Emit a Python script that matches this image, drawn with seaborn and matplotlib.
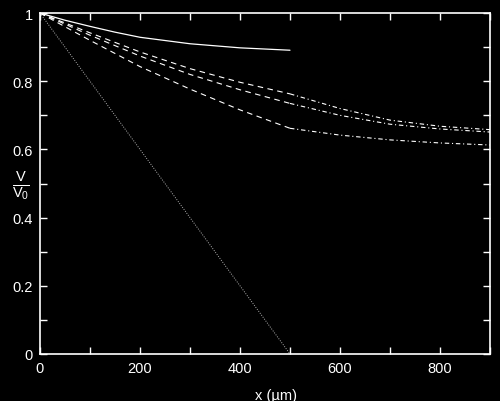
import matplotlib
matplotlib.use("Agg")
import matplotlib.pyplot as plt
import seaborn as sns
import pandas as pd
from matplotlib.ticker import MultipleLocator, FuncFormatter

# ==============================
# data
# ==============================
x_solid = [0, 50, 100, 150, 200, 300, 400, 500]
v_solid = [1.0, 0.979, 0.961, 0.944, 0.929, 0.910, 0.898, 0.891]

x_dotted = [0, 500]
v_dotted = [1.0, 0.0]

x_near = [0, 100, 200, 300, 400, 500]
x_far = [500, 600, 700, 800, 900]
v_top_near = [1.0, 0.942, 0.886, 0.837, 0.797, 0.763]
v_top_far = [0.763, 0.720, 0.686, 0.668, 0.658]
v_mid_near = [1.0, 0.935, 0.874, 0.820, 0.775, 0.735]
v_mid_far = [0.735, 0.700, 0.674, 0.660, 0.651]
v_low_near = [1.0, 0.920, 0.843, 0.777, 0.716, 0.662]
v_low_far = [0.662, 0.642, 0.628, 0.619, 0.613]

x_ticks_labelled = [0, 200, 400, 600, 800]
y_ticks_labelled = [0, 0.2, 0.4, 0.6, 0.8, 1]

# ==============================
# style
# ==============================
sns.set_theme(style="ticks")
plt.rcParams["font.family"] = ["Liberation Sans", "DejaVu Sans"]
plt.rcParams["mathtext.fontset"] = "custom"
plt.rcParams["mathtext.rm"] = "Liberation Sans"
plt.rcParams["mathtext.it"] = "Liberation Sans"

fig = plt.figure(figsize=(5.0, 4.02), dpi=100, facecolor="black")
ax = fig.add_axes([0.08, 0.117, 0.90, 0.848], facecolor="black")

dash = (0, (5, 4))
dashdot = (0, (4, 2.5, 1, 2.5))

sns.lineplot(x=x_solid, y=v_solid, ax=ax, color="white", lw=0.9)
sns.lineplot(x=x_dotted, y=v_dotted, ax=ax, color="#b0b0b0", lw=0.7,
             linestyle=(0, (1, 1.5)))
for xs, vs, style in [(x_near, v_top_near, dash), (x_far, v_top_far, dashdot),
                      (x_near, v_mid_near, dash), (x_far, v_mid_far, dashdot),
                      (x_near, v_low_near, dash), (x_far, v_low_far, dashdot)]:
    sns.lineplot(x=xs, y=vs, ax=ax, color="white", lw=0.8, linestyle=style)

ax.set_xlim(0, 900)
ax.set_ylim(0, 1)

ax.xaxis.set_major_locator(MultipleLocator(100))
ax.yaxis.set_major_locator(MultipleLocator(0.1))
ax.xaxis.set_major_formatter(FuncFormatter(
    lambda v, p: f"{int(round(v))}" if int(round(v)) in x_ticks_labelled else ""))
ax.yaxis.set_major_formatter(FuncFormatter(
    lambda v, p: (f"{v:g}" if any(abs(v - t) < 1e-6 for t in y_ticks_labelled) else "")))

ax.tick_params(axis="both", which="major", direction="in", length=5, width=1,
               color="white", labelcolor="white", labelsize=10.5,
               top=True, right=True, pad=5)

for s in ax.spines.values():
    s.set_color("white")
    s.set_linewidth(1.2)

ax.set_xlabel("x (\u00b5m)", color="white", fontsize=10.5)
ax.xaxis.set_label_coords((276 - 40) / 450, -0.1)
ax.set_ylabel(r"$\frac{V}{V_0}$", color="white", fontsize=15, rotation=0,
              ha="center", va="center")
ax.yaxis.set_label_coords(-0.042, 0.498)

fig.savefig("out.png", dpi=100, facecolor="black")
